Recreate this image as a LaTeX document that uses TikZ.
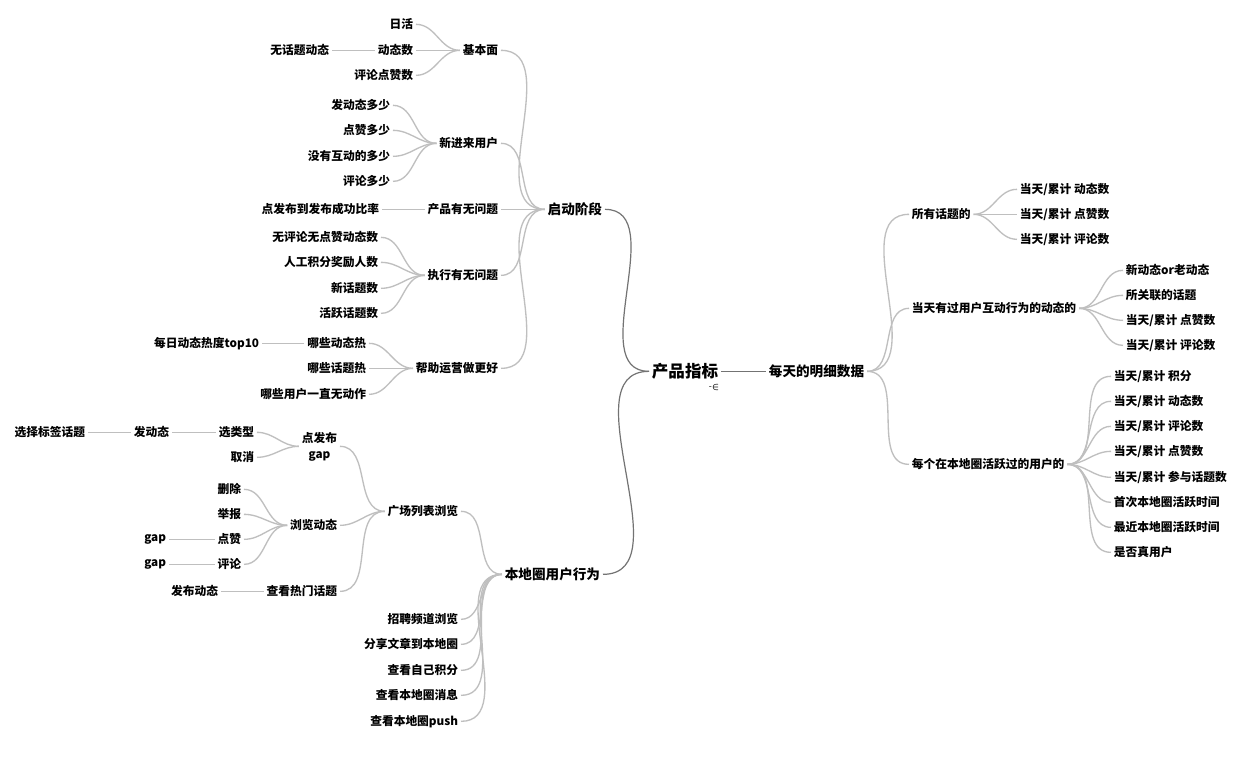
\documentclass[tikz,border=0pt]{standalone}
\usepackage{fontspec}
\setmainfont{Noto Sans CJK SC}
\usetikzlibrary{positioning}

\tikzset{
  leaf/.style={font=\fontsize{8.8}{12}\selectfont\bfseries,inner sep=2pt,yshift=-1pt},
  lft/.style={leaf,anchor=east},
  rgt/.style={leaf,anchor=west},
  branch/.style={font=\fontsize{10.2}{12}\selectfont\bfseries,inner sep=2pt,yshift=-1pt},
  topnode/.style={font=\fontsize{12.4}{14}\selectfont\bfseries,inner sep=2pt,yshift=-1pt},
  link/.style={draw=black!25,line width=1pt},
  trunk/.style={draw=black!55,line width=0.9pt}
}

\begin{document}
\begin{tikzpicture}[x=0.75pt,y=-0.75pt]
  \useasboundingbox[fill=white] (0,0) rectangle (1240,758);

  % centre
  \node[topnode] (root) at (685,370) {产品指标};
  \node[font=\fontsize{6.5}{6}\selectfont\boldmath,inner sep=0pt] (fold) at (714,387) {-$\in$};

  % right: daily data
  \node[branch,anchor=west] (day) at (766,370) {每天的明细数据};
  \draw[trunk] (root.east) -- (day.west);

  \node[rgt] (allt) at (909,213) {所有话题的};
  \node[rgt] (act) at (909,307) {当天有过用户互动行为的动态的};
  \node[rgt] (usr) at (909,463) {每个在本地圈活跃过的用户的};
  \draw[link] (day.east) to[out=0,in=180] (allt.west);
  \draw[link] (day.east) to[out=0,in=180] (act.west);
  \draw[link] (day.east) to[out=0,in=180] (usr.west);

  \node[rgt] (allt1) at (1017,188) {当天/累计 动态数};
  \node[rgt] (allt2) at (1017,213) {当天/累计 点赞数};
  \node[rgt] (allt3) at (1017,238) {当天/累计 评论数};
  \draw[link] (allt.east) to[out=0,in=180] (allt1.west);
  \draw[link] (allt.east) to[out=0,in=180] (allt2.west);
  \draw[link] (allt.east) to[out=0,in=180] (allt3.west);

  \node[rgt] (act1) at (1123,269) {新动态or老动态};
  \node[rgt] (act2) at (1123,294) {所关联的话题};
  \node[rgt] (act3) at (1123,319) {当天/累计 点赞数};
  \node[rgt] (act4) at (1123,344) {当天/累计 评论数};
  \draw[link] (act.east) to[out=0,in=180] (act1.west);
  \draw[link] (act.east) to[out=0,in=180] (act2.west);
  \draw[link] (act.east) to[out=0,in=180] (act3.west);
  \draw[link] (act.east) to[out=0,in=180] (act4.west);

  \node[rgt] (usr1) at (1111,375) {当天/累计 积分};
  \node[rgt] (usr2) at (1111,400) {当天/累计 动态数};
  \node[rgt] (usr3) at (1111,425) {当天/累计 评论数};
  \node[rgt] (usr4) at (1111,450) {当天/累计 点赞数};
  \node[rgt] (usr5) at (1111,476) {当天/累计 参与话题数};
  \node[rgt] (usr6) at (1111,501) {首次本地圈活跃时间};
  \node[rgt] (usr7) at (1111,526) {最近本地圈活跃时间};
  \node[rgt] (usr8) at (1111,551) {是否真用户};
  \draw[link] (usr.east) to[out=0,in=180] (usr1.west);
  \draw[link] (usr.east) to[out=0,in=180] (usr2.west);
  \draw[link] (usr.east) to[out=0,in=180] (usr3.west);
  \draw[link] (usr.east) to[out=0,in=180] (usr4.west);
  \draw[link] (usr.east) to[out=0,in=180] (usr5.west);
  \draw[link] (usr.east) to[out=0,in=180] (usr6.west);
  \draw[link] (usr.east) to[out=0,in=180] (usr7.west);
  \draw[link] (usr.east) to[out=0,in=180] (usr8.west);

  % left top: launch phase
  \node[branch,anchor=east] (launch) at (605,208) {启动阶段};
  \draw[trunk] (root.west) to[out=180,in=0] (launch.east);

  \node[lft] (basic) at (501,49) {基本面};
  \node[lft] (newu) at (501,142) {新进来用户};
  \node[lft] (prod) at (501,208) {产品有无问题};
  \node[lft] (exec) at (501,274) {执行有无问题};
  \node[lft] (help) at (501,367) {帮助运营做更好};
  \draw[link] (launch.west) to[out=180,in=0] (basic.east);
  \draw[link] (launch.west) to[out=180,in=0] (newu.east);
  \draw[link] (launch.west) to[out=180,in=0] (prod.east);
  \draw[link] (launch.west) to[out=180,in=0] (exec.east);
  \draw[link] (launch.west) to[out=180,in=0] (help.east);

  \node[lft] (basic1) at (416,23) {日活};
  \node[lft] (basic2) at (416,49) {动态数};
  \node[lft] (basic3) at (416,74) {评论点赞数};
  \draw[link] (basic.west) to[out=180,in=0] (basic1.east);
  \draw[link] (basic.west) to[out=180,in=0] (basic2.east);
  \draw[link] (basic.west) to[out=180,in=0] (basic3.east);
  \node[lft] (notopic) at (332,49) {无话题动态};
  \draw[link] (basic2.west) -- (notopic.east);

  \node[lft] (newu1) at (393,104) {发动态多少};
  \node[lft] (newu2) at (393,129) {点赞多少};
  \node[lft] (newu3) at (393,155) {没有互动的多少};
  \node[lft] (newu4) at (393,180) {评论多少};
  \draw[link] (newu.west) to[out=180,in=0] (newu1.east);
  \draw[link] (newu.west) to[out=180,in=0] (newu2.east);
  \draw[link] (newu.west) to[out=180,in=0] (newu3.east);
  \draw[link] (newu.west) to[out=180,in=0] (newu4.east);

  \node[lft] (ratio) at (382,208) {点发布到发布成功比率};
  \draw[link] (prod.west) -- (ratio.east);

  \node[lft] (exec1) at (381,236) {无评论无点赞动态数};
  \node[lft] (exec2) at (381,261) {人工积分奖励人数};
  \node[lft] (exec3) at (381,287) {新话题数};
  \node[lft] (exec4) at (381,312) {活跃话题数};
  \draw[link] (exec.west) to[out=180,in=0] (exec1.east);
  \draw[link] (exec.west) to[out=180,in=0] (exec2.east);
  \draw[link] (exec.west) to[out=180,in=0] (exec3.east);
  \draw[link] (exec.west) to[out=180,in=0] (exec4.east);

  \node[lft] (help1) at (369,342) {哪些动态热};
  \node[lft] (help2) at (369,367) {哪些话题热};
  \node[lft] (help3) at (369,393) {哪些用户一直无动作};
  \draw[link] (help.west) to[out=180,in=0] (help1.east);
  \draw[link] (help.west) to[out=180,in=0] (help2.east);
  \draw[link] (help.west) to[out=180,in=0] (help3.east);
  \node[lft] (top10) at (262,342) {每日动态热度top10};
  \draw[link] (help1.west) -- (top10.east);

  % left bottom: local circle behaviour
  \node[branch,anchor=east] (local) at (603,573) {本地圈用户行为};
  \draw[trunk] (root.west) to[out=180,in=0] (local.east);

  \node[lft] (square) at (461,510) {广场列表浏览};
  \node[lft] (job) at (461,618) {招聘频道浏览};
  \node[lft] (share) at (461,643) {分享文章到本地圈};
  \node[lft] (score) at (461,669) {查看自己积分};
  \node[lft] (msg) at (461,694) {查看本地圈消息};
  \node[lft] (push) at (461,720) {查看本地圈push};
  \draw[link] (local.west) to[out=180,in=0] (square.east);
  \draw[link] (local.west) to[out=180,in=0] (job.east);
  \draw[link] (local.west) to[out=180,in=0] (share.east);
  \draw[link] (local.west) to[out=180,in=0] (score.east);
  \draw[link] (local.west) to[out=180,in=0] (msg.east);
  \draw[link] (local.west) to[out=180,in=0] (push.east);

  \node[lft,align=center] (post) at (340,445) {点发布\\gap};
  \node[lft] (browse) at (340,524) {浏览动态};
  \node[lft] (hot) at (340,590) {查看热门话题};
  \draw[link] (square.west) to[out=180,in=0] (post.east);
  \draw[link] (square.west) to[out=180,in=0] (browse.east);
  \draw[link] (square.west) to[out=180,in=0] (hot.east);

  \node[lft] (kind) at (257,431) {选类型};
  \node[lft] (cancel) at (257,456) {取消};
  \draw[link] (post.west) to[out=180,in=0] (kind.east);
  \draw[link] (post.west) to[out=180,in=0] (cancel.east);
  \node[lft] (send) at (172,431) {发动态};
  \node[lft] (tag) at (88,431) {选择标签话题};
  \draw[link] (kind.west) -- (send.east);
  \draw[link] (send.west) -- (tag.east);

  \node[lft] (del) at (244,488) {删除};
  \node[lft] (report) at (244,513) {举报};
  \node[lft] (like) at (244,538) {点赞};
  \node[lft] (cmt) at (244,563) {评论};
  \draw[link] (browse.west) to[out=180,in=0] (del.east);
  \draw[link] (browse.west) to[out=180,in=0] (report.east);
  \draw[link] (browse.west) to[out=180,in=0] (like.east);
  \draw[link] (browse.west) to[out=180,in=0] (cmt.east);
  \node[lft] (gapa) at (169,538) {gap};
  \node[lft] (gapb) at (169,563) {gap};
  \draw[link] (like.west) -- (gapa.east);
  \draw[link] (cmt.west) -- (gapb.east);

  \node[lft] (hotpost) at (221,590) {发布动态};
  \draw[link] (hot.west) -- (hotpost.east);
\end{tikzpicture}
\end{document}
